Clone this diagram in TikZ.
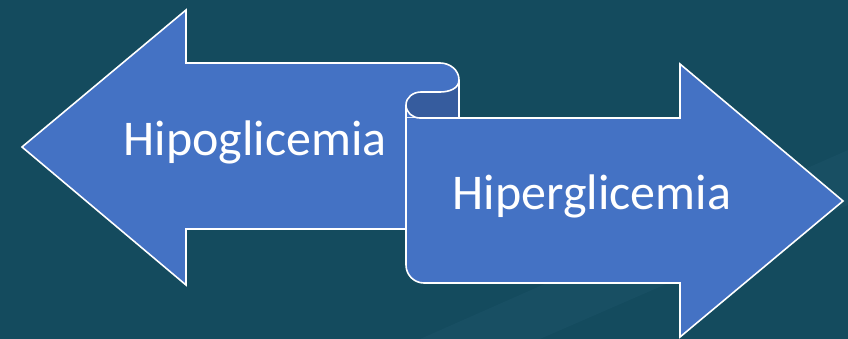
\documentclass[tikz,border=0pt]{standalone}
\usepackage{fontspec}
\setmainfont{Carlito}
\definecolor{bgteal}{HTML}{144B5E}
\definecolor{bgband}{HTML}{184F63}
\definecolor{ribbon}{HTML}{4472C4}
\definecolor{curl}{HTML}{365C9E}
\tikzset{
  outline/.style={draw=white, line width=1.6pt, line join=miter},
  lbl/.style={text=white, font=\fontsize{50}{54}\selectfont, inner sep=0pt}
}
\begin{document}
\begin{tikzpicture}[x=1pt,y=-1pt]
\fill[bgteal] (0,0) rectangle (848,339);
\useasboundingbox (0,0) rectangle (848,339);
% faint background band
\fill[bgband] (420,339) -- (848,150) -- (848,205) -- (540,339) -- cycle;
% left arrow
\path[fill=ribbon, outline] (406,229) -- (186,229) -- (186,285) -- (22,147) -- (186,10) -- (186,63) -- (440,63) to[out=0,in=90] (459,80) -- (459,118) -- (406,118) -- cycle;
% right arrow fill
\fill[ribbon] (406,118) -- (406,265) to[out=-90,in=180] (424,283) -- (680,283) -- (680,337) -- (843,201) -- (680,64) -- (680,118) -- cycle;
% dark curl
\fill[curl] (459,80) to[out=-90,in=0] (440,92) -- (421,92) to[out=180,in=90] (406,105) to[out=-90,in=180] (420,118) -- (459,118) -- cycle;
% outlines
\draw[outline] (459,80) to[out=-90,in=0] (440,92) -- (421,92) to[out=180,in=90] (406,105) to[out=-90,in=180] (420,118) -- (680,118) -- (680,64) -- (843,201) -- (680,337) -- (680,283) -- (424,283) to[out=180,in=-90] (406,265) -- (406,105);
\draw[outline] (459,80) -- (459,118);
\node[lbl] (hipo) at (255,142) {Hipoglicemia};
\node[lbl] (hiper) at (592,196) {Hiperglicemia};
\end{tikzpicture}
\end{document}
